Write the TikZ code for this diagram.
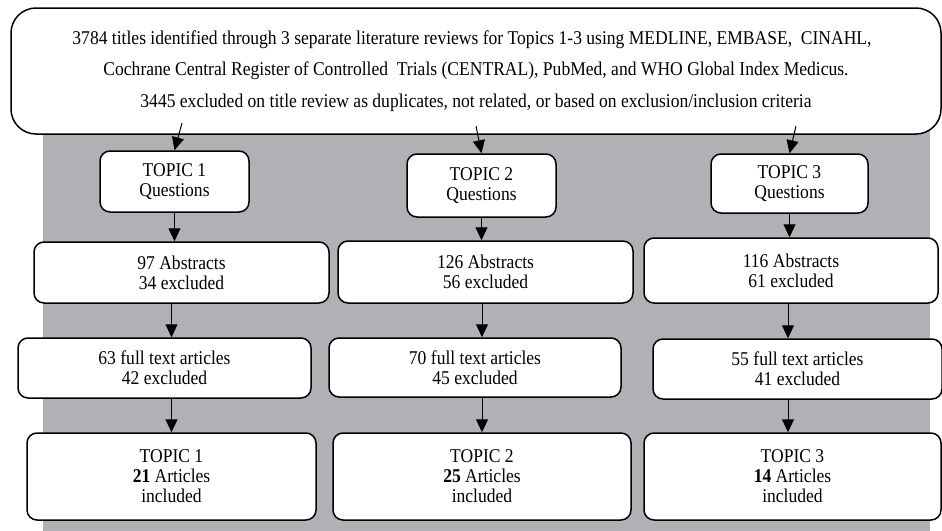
\documentclass[tikz,border=0pt]{standalone}
\usepackage{fontspec}
\setmainfont{Liberation Serif}[FakeStretch=0.9]
\usepackage{tikz}
\usetikzlibrary{positioning,arrows.meta}
\usetikzlibrary{calc}
\definecolor{panelgray}{RGB}{176,177,181}

\begin{document}
\begin{tikzpicture}[
  x=1pt, y=-1pt,
  box/.style={draw, line width=1.5pt, rounded corners=10pt, fill=white, inner sep=0pt, align=center,
    font=\fontsize{19.5}{20}\selectfont},
  arrow/.style={-{Triangle[length=13pt,width=12pt]}, line width=1pt}
]
\useasboundingbox (0,0) rectangle (942,530);

% Gray panel behind the three columns
\fill[panelgray] (43,120) rectangle (930,532);

% Search
\node[box, rounded corners=25pt, minimum width=930pt, minimum height=126pt,
  font=\fontsize{19.5}{31.5}\selectfont] (search) at (476,71) {%
  3784 titles identified through 3 separate literature reviews for Topics 1-3 using MEDLINE, EMBASE,\ \ CINAHL,\hspace*{8pt}\\
  Cochrane Central Register of Controlled\ \ Trials (CENTRAL), PubMed, and WHO Global Index Medicus.\hspace*{6pt}\\
  3445 excluded on title review as duplicates, not related, or based on exclusion/inclusion criteria};

% Topic questions
\node[box, minimum width=149pt, minimum height=61pt] (q1) at (174.5,181.5) {TOPIC 1 \\ Questions};
\node[box, minimum width=149pt, minimum height=63pt] (q2) at (481.5,185.5) {TOPIC 2 \\ Questions};
\node[box, minimum width=157pt, minimum height=59pt] (q3) at (789.5,183.5) {TOPIC 3 \\ Questions};

% Abstracts
\node[box, minimum width=295pt, minimum height=61pt] (abs1) at (181.5,272.5) {97 Abstracts \\ 34 excluded};
\node[box, minimum width=295pt, minimum height=62pt] (abs2) at (485.5,272) {126 Abstracts \\ 56 excluded};
\node[box, minimum width=294pt, minimum height=65pt] (abs3) at (791,270.5) {116 Abstracts \\ 61 excluded};

% Full texts
\node[box, minimum width=293pt, minimum height=60pt] (full1) at (164.5,368) {63 full text articles \\ 42 excluded};
\node[box, minimum width=292pt, minimum height=59pt] (full2) at (475,367.5) {70 full text articles \\ 45 excluded};
\node[box, minimum width=289pt, minimum height=60pt] (full3) at (797.5,369) {55 full text articles \\ 41 excluded};

% Included
\node[box, minimum width=289pt, minimum height=87pt] (inc1) at (171.5,476.5) {TOPIC 1 \\ \textbf{21} Articles \\ included};
\node[box, minimum width=298pt, minimum height=87pt] (inc2) at (482,476.5) {TOPIC 2 \\ \textbf{25} Articles \\ included};
\node[box, minimum width=297pt, minimum height=87pt] (inc3) at (792.5,476.5) {TOPIC 3 \\ \textbf{14} Articles \\ included};

% Arrows
\coordinate (s1) at (182,123);
\coordinate (s2) at (476,126);
\coordinate (s3) at (796,126);
\draw[arrow] (s1) -- (q1.north);
\draw[arrow] (s2) -- (q2.north);
\draw[arrow] (s3) -- (q3.north);

\draw[arrow] (q1.south) -- (q1.south |- abs1.north);
\draw[arrow] (q2.south) -- (q2.south |- abs2.north);
\draw[arrow] (q3.south) -- (q3.south |- abs3.north);

\draw[arrow] (abs1.south -| inc1.north) -- (full1.north -| inc1.north);
\draw[arrow] (abs2.south -| inc2.north) -- (full2.north -| inc2.north);
\draw[arrow] (abs3.south -| 788,0) -- (full3.north -| 788,0);

\draw[arrow] (full1.south -| inc1.north) -- (inc1.north);
\draw[arrow] (full2.south -| inc2.north) -- (inc2.north);
\draw[arrow] (full3.south -| 788,0) -- (inc3.north -| 788,0);

\end{tikzpicture}
\end{document}
